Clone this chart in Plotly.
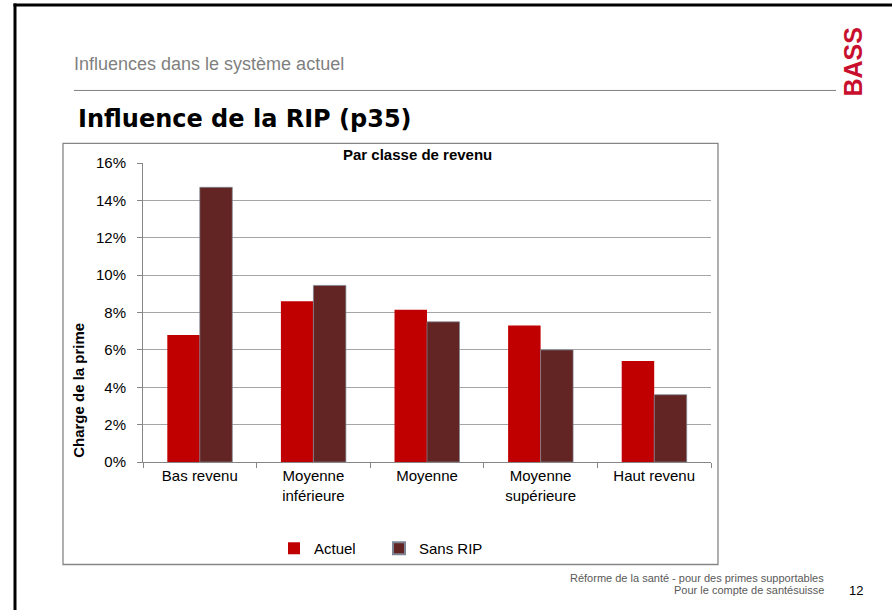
import plotly.graph_objects as go

categories = ["Bas revenu", "Moyenne<br>inférieure", "Moyenne", "Moyenne<br>supérieure", "Haut revenu"]
actuel = [0.068, 0.086, 0.0815, 0.073, 0.054]
sans_rip = [0.147, 0.0945, 0.075, 0.060, 0.036]
y_ticks = [0, 0.02, 0.04, 0.06, 0.08, 0.10, 0.12, 0.14, 0.16]

W, H = 892, 610
L, R, T, B = 143, 711, 162.7, 462.3


def px(x):
    return (x - L) / (R - L)


def py(y):
    return (B - y) / (B - T)


fig = go.Figure()
fig.add_trace(go.Bar(name="Actuel", x=categories, y=actuel,
                     marker=dict(color="#C00000", line=dict(width=0))))
fig.add_trace(go.Bar(name="Sans RIP", x=categories, y=sans_rip,
                     marker=dict(color="#632523", line=dict(width=0.7, color="#7d8594"))))

shapes = [
    # page border
    dict(type="line", xref="paper", yref="paper", x0=px(15), x1=px(15), y0=py(3), y1=py(612),
         line=dict(color="black", width=3)),
    dict(type="line", xref="paper", yref="paper", x0=px(13.5), x1=px(895), y0=py(4.5), y1=py(4.5),
         line=dict(color="black", width=3)),
    # separator
    dict(type="line", xref="paper", yref="paper", x0=px(74), x1=px(836), y0=py(90), y1=py(90),
         line=dict(color="#808080", width=1)),
    # chart box
    dict(type="rect", xref="paper", yref="paper", x0=px(63), x1=px(718), y0=py(143), y1=py(565),
         line=dict(color="#868686", width=1.3), layer="below"),
]

annotations = [
    dict(text="Influences dans le système actuel", x=px(72), y=py(64), xref="paper", yref="paper",
         xanchor="left", yanchor="middle", showarrow=False,
         font=dict(family="Liberation Sans", size=18, color="#7f7f7f")),
    dict(text="<b>Influence de la RIP (p35)</b>", x=px(76), y=py(119), xref="paper", yref="paper",
         xanchor="left", yanchor="middle", showarrow=False,
         font=dict(family="DejaVu Sans", size=24, color="black")),
    dict(text="<b>BASS</b>", x=px(853), y=py(62), xref="paper", yref="paper",
         xanchor="center", yanchor="middle", showarrow=False, textangle=-90,
         font=dict(family="Liberation Sans Narrow, Liberation Sans", size=25, color="#C8102E")),
    dict(text="<b>Par classe de revenu</b>", x=px(417), y=py(154), xref="paper", yref="paper",
         xanchor="center", yanchor="middle", showarrow=False,
         font=dict(family="Liberation Sans", size=15, color="black")),
    dict(text="<b>Charge de la prime</b>", x=px(79), y=py(391), xref="paper", yref="paper",
         xanchor="center", yanchor="middle", showarrow=False, textangle=-90,
         font=dict(family="Liberation Sans", size=15, color="black")),
    dict(text="Réforme de la santé - pour des primes supportables", x=px(826), y=py(579),
         xref="paper", yref="paper", xanchor="right", yanchor="middle", showarrow=False,
         font=dict(family="Liberation Sans", size=11, color="#595959")),
    dict(text="Pour le compte de santésuisse", x=px(826), y=py(591),
         xref="paper", yref="paper", xanchor="right", yanchor="middle", showarrow=False,
         font=dict(family="Liberation Sans", size=11, color="#595959")),
    dict(text="12", x=px(856), y=py(591), xref="paper", yref="paper",
         xanchor="center", yanchor="middle", showarrow=False,
         font=dict(family="Liberation Sans", size=13, color="black")),
]

fig.update_layout(
    width=W, height=H,
    margin=dict(l=L, r=W - R, t=T, b=H - B, pad=0),
    paper_bgcolor="white", plot_bgcolor="white",
    font=dict(family="Liberation Sans", size=15, color="black"),
    barmode="group", bargap=0.428, bargroupgap=0,
    shapes=shapes, annotations=annotations,
    showlegend=True,
    legend=dict(orientation="h", x=px(379), y=py(549), xanchor="center", yanchor="middle",
                font=dict(size=15), itemsizing="constant", bgcolor="rgba(0,0,0,0)",
                entrywidth=60, itemwidth=30),
)
fig.update_yaxes(range=[0, 0.16], tickvals=y_ticks, tickformat=".0%",
                 showgrid=True, gridcolor="#a6a6a6", gridwidth=1,
                 showline=True, linecolor="#868686", linewidth=1,
                 ticks="outside", ticklen=5, tickcolor="#868686",
                 ticklabelstandoff=8, zeroline=False,
                 tickfont=dict(size=15))
fig.update_xaxes(showline=True, linecolor="#868686", linewidth=1,
                 ticks="outside", ticklen=5, tickcolor="#868686",
                 tickson="boundaries", tickfont=dict(size=15), showgrid=False)

fig.write_html("out.html", config={"displayModeBar": False},
               post_script="document.body.style.margin='0';document.body.style.overflow='hidden';")
